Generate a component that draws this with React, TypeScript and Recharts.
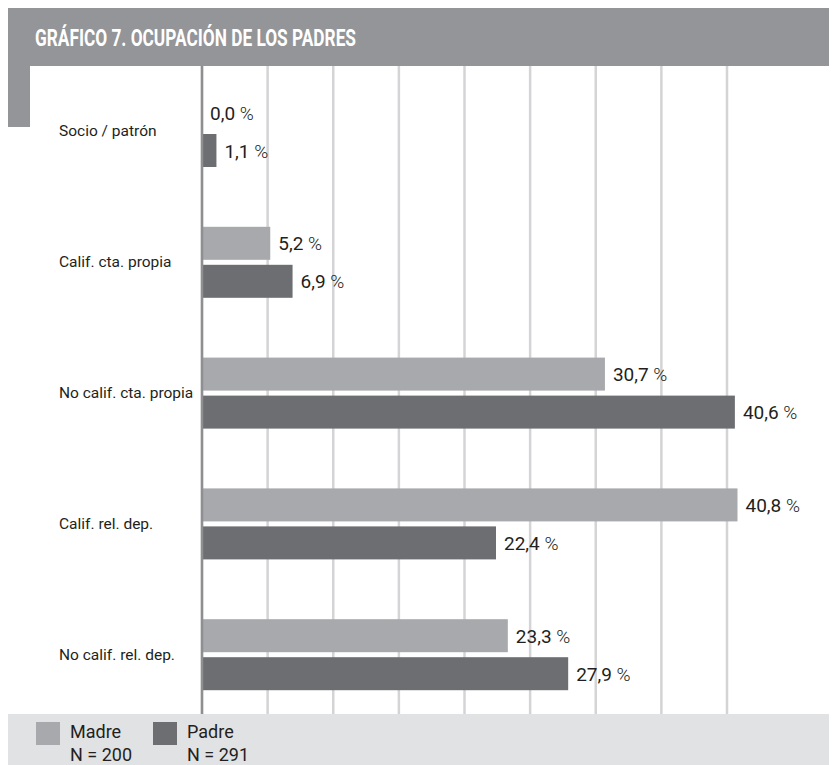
import { Bar, BarChart, CartesianGrid, ReferenceLine, XAxis, YAxis } from "recharts";

const categories = ["Socio / patrón", "Calif. cta. propia", "No calif. cta. propia", "Calif. rel. dep.", "No calif. rel. dep."];
const madre = [0.0, 5.2, 30.7, 40.8, 23.3];
const padre = [1.1, 6.9, 40.6, 22.4, 27.9];
const xTicks = [0, 5, 10, 15, 20, 25, 30, 35, 40];
const seriesNames = ["Madre", "Padre"];
const seriesN = ["N = 200", "N = 291"];

const data = categories.map((c, i) => ({ name: c, madre: madre[i], padre: padre[i] }));

const MADRE = "#a7a9ac";
const PADRE = "#6d6e71";

function CategoryTick(props: any) {
  const { y, payload } = props;
  return (
    <text x={51} y={y} dy={5} fill="#231f20" fontFamily="Roboto" fontSize={15.5} textAnchor="start">
      {payload.value}
    </text>
  );
}

// bar + value label drawn together so the 0,0 % label is not dropped
function barWithLabel(key: string, color: string) {
  return (props: any) => {
    const { x, y, width, height, payload } = props;
    const v = payload[key];
    const txt = Number(v).toFixed(1).replace(".", ",");
    return (
      <g>
        {width > 0 && <rect x={x} y={y} width={width} height={height} fill={color} />}
        <text x={x + width + 8} y={y + height / 2} dy={7} fontFamily="Roboto" fontSize={19} fill="#231f20">
          <tspan fontWeight={400}>{txt}</tspan>
          <tspan fontWeight={300}> %</tspan>
        </text>
      </g>
    );
  };
}

export default function App() {
  const colors = [MADRE, PADRE];
  return (
    <div style={{ position: "relative", width: 829, height: 757, background: "#fff", overflow: "hidden" }}>
      <div style={{ position: "absolute", left: 0, top: 0, width: 829, height: 58, background: "#939598", zIndex: 2 }}>
        <svg width={829} height={58} style={{ position: "absolute", left: 0, top: 0 }}>
          <text
            x={27}
            y={38}
            fill="#fff"
            fontFamily="Roboto"
            fontWeight={700}
            fontSize={24}
            textLength={321}
            lengthAdjust="spacingAndGlyphs"
          >
            GRÁFICO 7. OCUPACIÓN DE LOS PADRES
          </text>
        </svg>
      </div>
      <div style={{ position: "absolute", left: 0, top: 58, width: 22, height: 61, background: "#939598", zIndex: 2 }} />
      <div style={{ position: "absolute", left: 0, top: 0 }}>
        <BarChart
          width={829}
          height={712}
          data={data}
          layout="vertical"
          margin={{ top: 58, right: 5, bottom: 0, left: 0 }}
          barSize={33}
          barGap={5}
        >
          <CartesianGrid horizontal={false} vertical stroke="#d4d4d6" strokeWidth={2.5} />
          <XAxis type="number" domain={[0, 48]} ticks={xTicks} hide />
          <YAxis type="category" dataKey="name" width={194} axisLine={false} tickLine={false} tick={<CategoryTick />} />
          <Bar dataKey="madre" fill={MADRE} isAnimationActive={false} shape={barWithLabel("madre", MADRE)} />
          <Bar dataKey="padre" fill={PADRE} isAnimationActive={false} shape={barWithLabel("padre", PADRE)} />
          <ReferenceLine x={0} stroke="#8e8f92" strokeWidth={2.5} />
        </BarChart>
      </div>
      <div style={{ position: "absolute", left: 0, top: 706, width: 829, height: 51, background: "#e1e2e3", zIndex: 2 }}>
        <svg width={829} height={51} style={{ position: "absolute", left: 0, top: 0 }}>
          {seriesNames.map((s, i) => (
            <g key={s} transform={`translate(${28 + i * 117}, 8)`}>
              <rect x={0} y={0} width={24} height={23} fill={colors[i]} />
              <text x={34} y={16} fontFamily="Roboto" fontSize={18} fill="#231f20">
                {s}
              </text>
              <text x={34} y={39} fontFamily="Roboto" fontSize={18} fill="#231f20">
                {seriesN[i]}
              </text>
            </g>
          ))}
        </svg>
      </div>
    </div>
  );
}
